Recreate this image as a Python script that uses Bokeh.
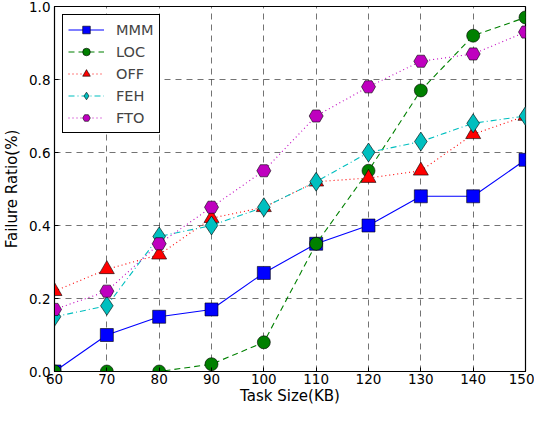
from bokeh.plotting import figure
from bokeh.embed import file_html
from bokeh.resources import INLINE
from bokeh.models import FixedTicker, PrintfTickFormatter, Range1d, Legend, LegendItem

task_size = [60, 70, 80, 90, 100, 110, 120, 130, 140, 150]
mmm = [0.0, 0.10, 0.15, 0.17, 0.27, 0.35, 0.40, 0.48, 0.48, 0.58]
loc = [0.0, 0.0, 0.0, 0.02, 0.08, 0.35, 0.55, 0.77, 0.92, 0.97]
off = [0.22, 0.28, 0.32, 0.42, 0.45, 0.52, 0.53, 0.55, 0.65, 0.70]
feh = [0.15, 0.18, 0.37, 0.40, 0.45, 0.52, 0.60, 0.63, 0.68, 0.70]
fto = [0.17, 0.22, 0.35, 0.45, 0.55, 0.70, 0.78, 0.85, 0.87, 0.93]
x_ticks = [60, 70, 80, 90, 100, 110, 120, 130, 140, 150]
y_ticks = [0.0, 0.2, 0.4, 0.6, 0.8, 1.0]

FONT = "DejaVu Sans"

p = figure(width=534, height=407, output_backend="svg", toolbar_location=None,
           x_range=Range1d(60, 150), y_range=Range1d(0, 1.0),
           min_border_left=48, min_border_right=9, min_border_top=6, min_border_bottom=30)

p.outline_line_color = "black"
p.outline_line_width = 1.2
p.outline_line_alpha = 1.0

for ax in (p.xaxis[0], p.yaxis[0]):
    ax.major_tick_in = 4
    ax.major_tick_out = 0
    ax.minor_tick_in = 0
    ax.minor_tick_out = 0
    ax.axis_line_color = "black"
    ax.major_tick_line_color = "black"
    ax.major_label_text_font = FONT
    ax.major_label_text_font_size = "13.5px"
    ax.major_label_text_color = "black"
    ax.axis_label_text_font = FONT
    ax.axis_label_text_font_size = "15px"
    ax.axis_label_text_font_style = "normal"
    ax.axis_label_text_color = "black"

p.xaxis.ticker = FixedTicker(ticks=x_ticks)
p.yaxis.ticker = FixedTicker(ticks=y_ticks)
p.yaxis.formatter = PrintfTickFormatter(format="%.1f")
p.xaxis.axis_label = "Task Size(KB)"
p.yaxis.axis_label = "Failure Ratio(%)"
p.xaxis.major_label_standoff = 2
p.yaxis.major_label_standoff = 4
p.xaxis.axis_label_standoff = 0
p.yaxis.axis_label_standoff = 5

for g in (p.xgrid[0], p.ygrid[0]):
    g.grid_line_color = "black"
    g.grid_line_alpha = 0.55
    g.grid_line_dash = "6 5"
    g.grid_line_width = 1

series = [
    ("MMM", mmm, "#0000ff", "solid", "square", 13),
    ("LOC", loc, "#008000", "6 4", "circle", 13),
    ("OFF", off, "#ff0000", "1 3", "triangle", 15),
    ("FEH", feh, "#00bfbf", "6 3 1 3", "diamond", 19),
    ("FTO", fto, "#bf00bf", "1 3", "hex", 14),
]

items = []
for name, ys, color, dash, marker, size in series:
    ln = p.line(task_size, ys, line_color=color, line_width=1.1, line_dash=dash)
    sc = p.scatter(task_size, ys, marker=marker, size=size, fill_color=color,
                   line_color="black", line_width=0.6)
    items.append(LegendItem(label=name, renderers=[ln, sc]))

legend = Legend(items=items, location="top_left")
legend.margin = 8
legend.padding = 5
legend.spacing = 3
legend.glyph_width = 36
legend.glyph_height = 19
legend.label_standoff = 12
legend.label_text_font = FONT
legend.label_text_font_size = "14.5px"
legend.border_line_color = "black"
legend.border_line_width = 1.2
legend.border_line_alpha = 1.0
legend.background_fill_alpha = 1.0
p.add_layout(legend, "center")

open("out.html", "w").write(file_html(p, INLINE))
